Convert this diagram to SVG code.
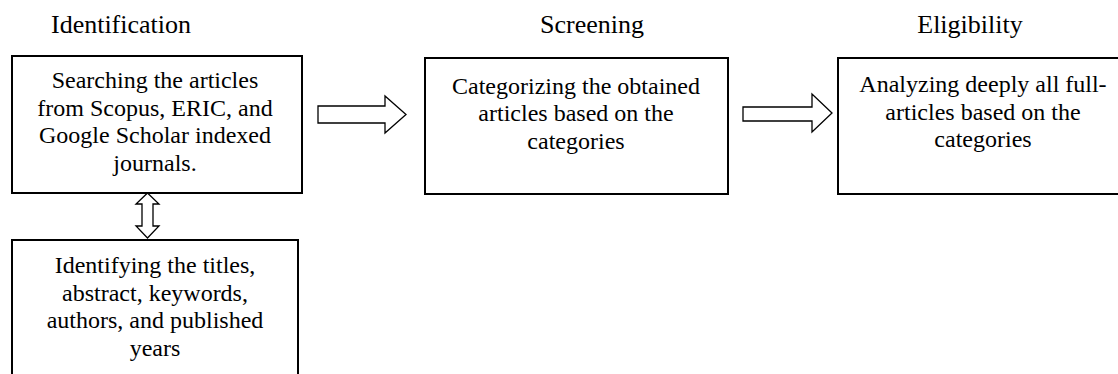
<svg xmlns="http://www.w3.org/2000/svg" width="1118" height="374" viewBox="0 0 1118 374">
<style>
.box{fill:#fff;stroke:#000;stroke-width:2}
.arr{fill:#fff;stroke:#000;stroke-width:1.3;stroke-linejoin:miter}
text{font-family:"Liberation Serif","Times New Roman",serif;fill:#000;text-anchor:middle}
.t{font-size:26px}
.b{font-size:24px}
</style>
<rect width="1118" height="374" fill="#fff"/>
<g id="titles">
<text class="t" x="121" y="33">Identification</text>
<text class="t" x="592" y="33">Screening</text>
<text class="t" x="970" y="33">Eligibility</text>
</g>
<g id="node-search">
<rect class="box" x="12" y="56" width="290" height="137"/>
<text class="b" x="155" y="88">Searching the articles</text>
<text class="b" x="155" y="115.5">from Scopus, ERIC, and</text>
<text class="b" x="155" y="143">Google Scholar indexed</text>
<text class="b" x="155" y="170.5">journals.</text>
</g>
<g id="node-identify">
<rect class="box" x="12" y="240" width="286" height="150"/>
<text class="b" x="155" y="273">Identifying the titles,</text>
<text class="b" x="155" y="300.5">abstract, keywords,</text>
<text class="b" x="155" y="328">authors, and published</text>
<text class="b" x="155" y="355.5">years</text>
</g>
<g id="node-screen">
<rect class="box" x="425" y="58" width="303" height="136"/>
<text class="b" x="576" y="93.5">Categorizing the obtained</text>
<text class="b" x="576" y="121">articles based on the</text>
<text class="b" x="576" y="148.5">categories</text>
</g>
<g id="node-eligible">
<rect class="box" x="838" y="58" width="290" height="136"/>
<text class="b" x="983" y="92">Analyzing deeply all full-</text>
<text class="b" x="983" y="119.5">articles based on the</text>
<text class="b" x="983" y="147">categories</text>
</g>
<g id="connectors">
<polygon class="arr" points="318,106 385,106 385,96 406,114.5 385,133 385,123 318,123"/>
<polygon class="arr" points="743,107 812,107 812,94 832,113 812,132 812,121 743,121"/>
<polygon class="arr" points="147.5,193 159,204 153,204 153,226 159,226 147.5,238 136,226 142,226 142,204 136,204"/>
</g>
</svg>
